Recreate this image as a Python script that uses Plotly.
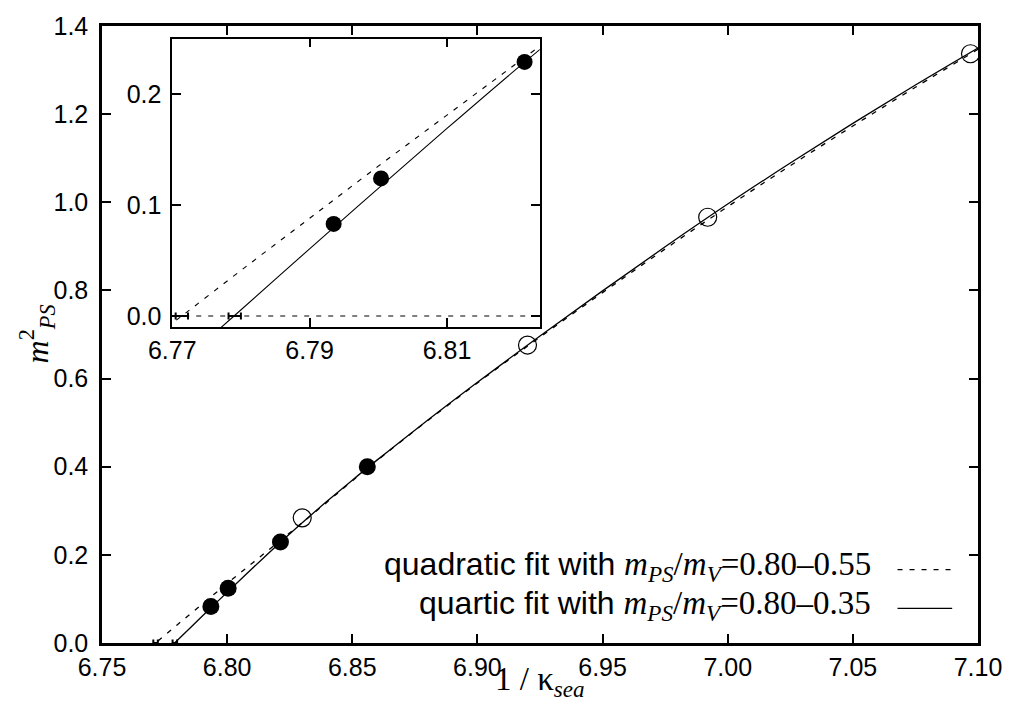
import plotly.graph_objects as go

# ---- data ----
fit_x = [6.765, 6.7714, 6.78, 6.79, 6.80, 6.81, 6.82, 6.83, 6.84, 6.85, 6.875,
         6.90, 6.925, 6.95, 6.975, 7.00, 7.025, 7.05, 7.075, 7.10]
quad_y = [-0.030, 0.0, 0.041, 0.088, 0.135, 0.181, 0.227, 0.273, 0.320, 0.368, 0.482,
          0.590, 0.694, 0.795, 0.894, 0.990, 1.083, 1.173, 1.261, 1.347]
quart_x = [6.77, 6.775, 6.779, 6.79, 6.80, 6.81, 6.82, 6.83, 6.84, 6.85, 6.86, 6.875,
           6.90, 6.925, 6.95, 6.975, 7.00, 7.025, 7.05, 7.075, 7.10]
quart_y = [-0.050, -0.022, 0.0, 0.0605, 0.115, 0.169, 0.222, 0.273, 0.322, 0.3695, 0.4155, 0.483,
           0.5915, 0.6965, 0.799, 0.899, 0.996, 1.089, 1.179, 1.266, 1.350]

filled_x = [6.7935, 6.8004, 6.8213, 6.856]
filled_y = [0.083, 0.124, 0.229, 0.400]
open_x = [6.830, 6.920, 6.992, 7.097]
open_y = [0.284, 0.676, 0.966, 1.337]

crit_x = [6.7714, 6.7791]
crit_y = [0.0, 0.0]
crit_err = [0.0009, 0.0009]

main_xticks = [6.75, 6.80, 6.85, 6.90, 6.95, 7.00, 7.05, 7.10]
main_yticks = [0.0, 0.2, 0.4, 0.6, 0.8, 1.0, 1.2, 1.4]
inset_xticks = [6.77, 6.79, 6.81]
inset_yticks = [0.0, 0.1, 0.2]

W, H = 1014, 704
L, R, T, B = 102, 30, 20, 61
pw, ph = W - L - R, H - T - B


def px_x(p):
    return (p - L) / pw


def px_y(p):
    return (H - B - p) / ph


fig = go.Figure()
DASH = "5px,7px"

for xa, ya, lw, ms in (("x", "y", 1.3, 17), ("x2", "y2", 1.1, 16)):
    fig.add_trace(go.Scatter(x=fit_x, y=quad_y, mode="lines", xaxis=xa, yaxis=ya,
                             line=dict(color="black", width=lw, dash=DASH, shape="spline"),
                             showlegend=False))
    fig.add_trace(go.Scatter(x=quart_x, y=quart_y, mode="lines", xaxis=xa, yaxis=ya,
                             line=dict(color="black", width=lw, shape="spline"),
                             showlegend=False))
    fig.add_trace(go.Scatter(x=filled_x, y=filled_y, mode="markers", xaxis=xa, yaxis=ya,
                             marker=dict(color="black", size=ms, line=dict(width=0)),
                             showlegend=False))
    fig.add_trace(go.Scatter(x=open_x, y=open_y, mode="markers", xaxis=xa, yaxis=ya,
                             marker=dict(color="rgba(0,0,0,0)", size=ms + 1,
                                         line=dict(color="black", width=1.2)),
                             showlegend=False))
    fig.add_trace(go.Scatter(x=crit_x, y=crit_y, mode="markers", xaxis=xa, yaxis=ya,
                             marker=dict(color="black", size=1),
                             error_x=dict(type="data", array=crit_err, color="black",
                                          thickness=2, width=3.5),
                             cliponaxis=False, showlegend=False))

axis_common = dict(showgrid=False, zeroline=False, showline=True, linecolor="black",
                   ticks="inside", mirror="ticks", tickcolor="black", ticklen=9,
                   tickfont=dict(family="Liberation Sans, Arial", size=25, color="black"))

fig.update_layout(
    width=W, height=H,
    margin=dict(l=L, r=R, t=T, b=B),
    paper_bgcolor="white", plot_bgcolor="white",
    showlegend=False,
    xaxis=dict(range=[6.75, 7.10], tickvals=main_xticks,
               ticktext=[f"{v:.2f}" for v in main_xticks],
               linewidth=2.5, tickwidth=2, domain=[0, 1], anchor="y",
               ticklabelstandoff=0, **axis_common),
    yaxis=dict(range=[0, 1.4], tickvals=main_yticks,
               ticktext=[f"{v:.1f}" for v in main_yticks],
               linewidth=2.5, tickwidth=2, domain=[0, 1], anchor="x",
               ticklabelstandoff=6, **axis_common),
    xaxis2=dict(range=[6.77, 6.8235], tickvals=inset_xticks,
                ticktext=[f"{v:.2f}" for v in inset_xticks],
                linewidth=1.5, tickwidth=1.5, anchor="y2",
                domain=[px_x(172.7), px_x(542.7)], **axis_common),
    yaxis2=dict(range=[-0.01, 0.25], tickvals=inset_yticks,
                ticktext=[f"{v:.1f}" for v in inset_yticks],
                linewidth=1.5, tickwidth=1.5, anchor="x2",
                domain=[px_y(324), px_y(32.7)], ticklabelstandoff=4, **axis_common),
)

# dashed zero line in the inset
fig.add_shape(type="line", xref="x2 domain", yref="y2", x0=0, x1=1, y0=0, y1=0,
              line=dict(color="black", width=1.1, dash=DASH))

SERIF = "Liberation Serif, Times New Roman"
SANS = "Liberation Sans, Arial"

# axis titles
fig.add_annotation(xref="paper", yref="paper", x=0.5, y=px_y(705), yanchor="bottom",
                   xanchor="center", showarrow=False,
                   text="1 / κ<sub><i>sea</i></sub>",
                   font=dict(family=SERIF, size=33, color="black"))
fig.add_annotation(xref="paper", yref="paper", x=px_x(36), y=px_y(331),
                   xanchor="center", yanchor="middle", showarrow=False, textangle=-90,
                   text="<i>m</i><sup>2</sup><sub><i>PS</i></sub>",
                   font=dict(family=SERIF, size=32, color="black"))

# legend (text on the left, sample on the right)
leg_rows = [
    ("quadratic fit with ", "0.80–0.55", 566, DASH),
    ("quartic fit with ", "0.80–0.35", 605, "solid"),
]
for label, rng, yc, dash in leg_rows:
    txt = (f"{label}<span style='font-family:{SERIF}; font-size:33px'>"
           f"<i>m</i><sub><i>PS</i></sub>/<i>m</i><sub><i>V</i></sub>={rng}</span>")
    fig.add_annotation(xref="paper", yref="paper", x=px_x(878), y=px_y(yc),
                       xanchor="right", yanchor="middle", showarrow=False,
                       text=txt, font=dict(family=SANS, size=32, color="black"))
    fig.add_shape(type="line", xref="paper", yref="paper",
                  x0=px_x(903), x1=px_x(958), y0=px_y(yc + 3), y1=px_y(yc + 3),
                  line=dict(color="black", width=1.2, dash=dash))

fig.write_html("out.html")
